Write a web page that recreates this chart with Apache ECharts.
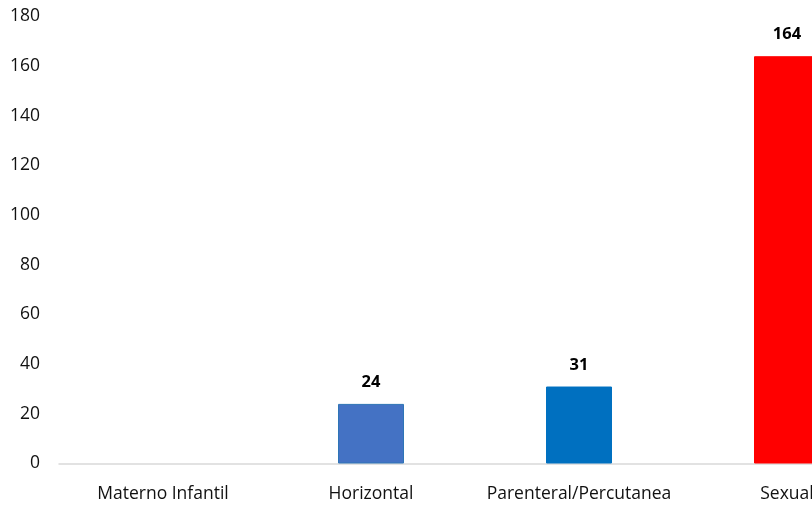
<!DOCTYPE html>
<html><head><meta charset="utf-8">
<script src="https://cdn.jsdelivr.net/npm/echarts@6/dist/echarts.min.js"></script>
<style>html,body{margin:0;padding:0;background:#fff}#c{width:812px;height:508px}</style>
</head><body><div id="c"></div>
<script>
const categories = ['Materno Infantil', 'Horizontal', 'Parenteral/Percutanea', 'Sexual'];
const values = [0, 24, 31, 164];
const barColors = ['#4472C4', '#4472C4', '#0070C0', '#FF0000'];
const borderColors = ['#2E75B6', '#2E75B6', '#0070C0', '#FF0000'];
const FONT = '"Open Sans", Lato, sans-serif';

const chart = echarts.init(document.getElementById('c'));
chart.setOption({
  animation: false,
  grid: { left: 59, top: 16.5, bottom: 44.5, right: -79, containLabel: false, outerBoundsMode: 'none' },
  xAxis: {
    type: 'category', data: categories,
    axisLine: { lineStyle: { color: '#d9d9d9', width: 1.5 } },
    axisTick: { show: false },
    axisLabel: { interval: 0, color: '#111', fontFamily: FONT, fontSize: 17.5, margin: 22 }
  },
  yAxis: {
    type: 'value', min: 0, max: 180, interval: 20,
    axisLine: { show: false }, axisTick: { show: false },
    splitLine: { show: false },
    axisLabel: { color: '#111', fontFamily: FONT, fontSize: 17.5, margin: 19 }
  },
  series: [{
    type: 'bar', barWidth: 66,
    data: values.map((v, i) => ({
      value: v,
      itemStyle: { color: barColors[i], borderColor: borderColors[i], borderWidth: v > 0 ? 1 : 0, opacity: v > 0 ? 1 : 0 },
      label: { show: v > 0 }
    })),
    label: { position: 'top', distance: 13, color: '#000', fontWeight: 'bold', fontSize: 16.5, fontFamily: FONT }
  }]
});
</script></body></html>
